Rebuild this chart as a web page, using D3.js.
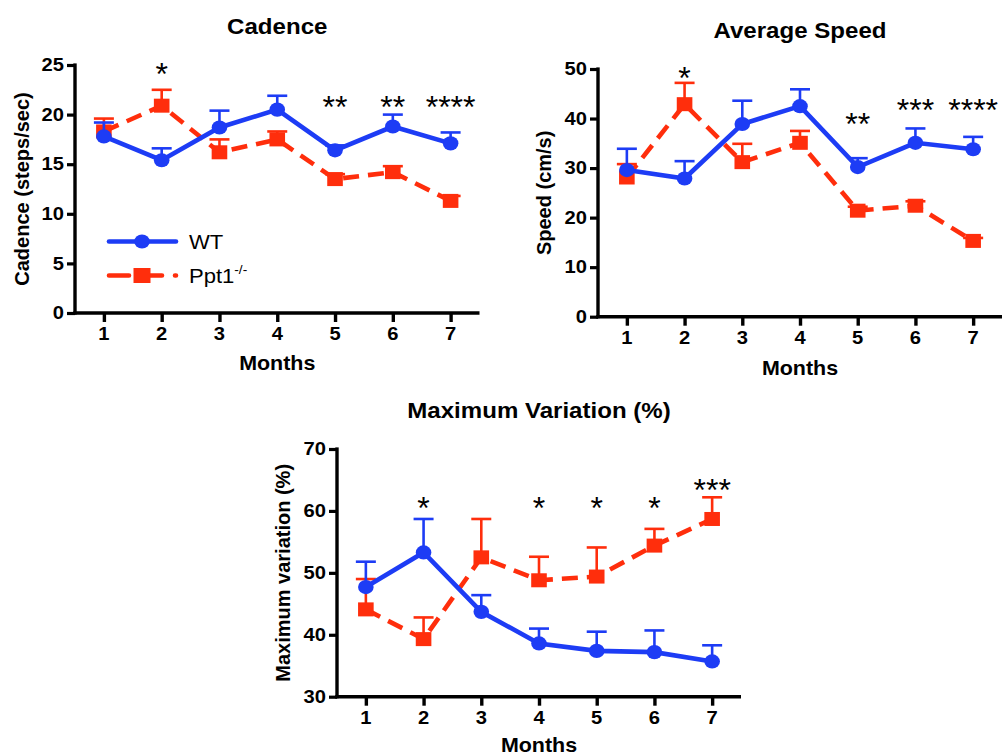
<!DOCTYPE html>
<html>
<head>
<meta charset="utf-8">
<script src="https://cdn.jsdelivr.net/npm/d3@7"></script>
<style>
  html, body { margin: 0; padding: 0; background: #fff; }
  svg { display: block; font-family: "Liberation Sans", Arial, Helvetica, sans-serif; }
</style>
</head>
<body>
<svg id="chart" width="1004" height="756"></svg>
<script>
// Months after birth
const months = [1, 2, 3, 4, 5, 6, 7];

// Cadence (steps/sec): mean and SEM
const cadenceWT     = [17.8, 15.4, 18.7, 20.5, 16.4, 18.8, 17.1];
const cadenceWTerr  = [1.4, 1.2, 1.7, 1.4, 0.5, 1.2, 1.1];
const cadenceKO     = [18.3, 20.9, 16.2, 17.5, 13.5, 14.2, 11.3];
const cadenceKOerr  = [1.3, 1.6, 1.3, 0.8, 0.5, 0.6, 0.5];
const cadenceStars  = ["", "*", "", "", "**", "**", "****"];
const cadenceTicks  = [0, 5, 10, 15, 20, 25];

// Average speed (cm/s): mean and SEM
const speedWT       = [29.6, 27.9, 38.9, 42.5, 30.2, 35.1, 33.8];
const speedWTerr    = [4.3, 3.5, 4.7, 3.4, 1.8, 2.9, 2.5];
const speedKO       = [28.1, 42.9, 31.2, 35.1, 21.4, 22.4, 15.3];
const speedKOerr    = [2.7, 4.3, 3.7, 2.4, 0.8, 0.9, 0.6];
const speedStars    = ["", "*", "", "", "**", "***", "****"];
const speedTicks    = [0, 10, 20, 30, 40, 50];

// Maximum variation (%): mean and SEM
const variationWT     = [47.7, 53.3, 43.7, 38.6, 37.4, 37.2, 35.7];
const variationWTerr  = [4.1, 5.4, 2.7, 2.4, 3.1, 3.5, 2.6];
const variationKO     = [44.1, 39.3, 52.5, 48.8, 49.4, 54.4, 58.7];
const variationKOerr  = [4.9, 3.5, 6.2, 3.8, 4.7, 2.7, 3.5];
const variationStars  = ["", "*", "", "*", "*", "*", "***"];
const variationTicks  = [30, 40, 50, 60, 70];

const BLUE = "#1d3cf5";
const RED = "#ff2e0c";
const SX = 1.12; // horizontal stretch of printed glyphs

const svg = d3.select("#chart");

// text helper with a horizontal glyph stretch
function label(parent, x, y, str, o = {}) {
  const g = parent.append("g").attr("transform", `translate(${x},${y}) scale(${o.sx ?? SX},1)`);
  const t = g.append("text")
    .attr("text-anchor", o.anchor || "middle")
    .attr("dominant-baseline", o.baseline || "auto")
    .attr("font-size", o.size || 18)
    .attr("font-weight", o.weight || "bold")
    .attr("fill", o.fill || "#000")
    .text(str);
  return t;
}

const panels = [
  {
    title: "Cadence", ylabel: "Cadence (steps/sec)",
    wt: cadenceWT, wtErr: cadenceWTerr, ko: cadenceKO, koErr: cadenceKOerr,
    stars: cadenceStars, ticks: cadenceTicks, domain: [0, 25],
    starLevel: [0, 24.8, 0, 0, 21.5, 21.5, 21.5],
    xr: [75, 479.5], yr: [313, 65],
    titleY: 34, ylabelX: 22, monthsY: 370, legend: true
  },
  {
    title: "Average Speed", ylabel: "Speed (cm/s)",
    wt: speedWT, wtErr: speedWTerr, ko: speedKO, koErr: speedKOerr,
    stars: speedStars, ticks: speedTicks, domain: [0, 50],
    starLevel: [0, 49.5, 0, 0, 40.4, 43.1, 43.1],
    xr: [598, 1002], yr: [316.7, 69],
    titleY: 38, ylabelX: 544, monthsY: 375, legend: false
  },
  {
    title: "Maximum Variation (%)", ylabel: "Maximum variation (%)",
    wt: variationWT, wtErr: variationWTerr, ko: variationKO, koErr: variationKOerr,
    stars: variationStars, ticks: variationTicks, domain: [30, 70],
    starLevel: [0, 61.6, 0, 61.6, 61.6, 61.6, 64.5],
    xr: [337, 741], yr: [696.7, 449],
    titleY: 418, ylabelX: 283, monthsY: 752, legend: false
  }
];

panels.forEach(p => {
  const g = svg.append("g");
  const x = d3.scaleLinear().domain([0.5, 7.5]).range(p.xr);
  const y = d3.scaleLinear().domain(p.domain).range(p.yr);
  const cx = (x(1) + x(7)) / 2;

  // title
  label(g, cx, p.titleY, p.title, { size: 21.5 });

  // y axis
  const yAxis = d3.axisLeft(y).tickValues(p.ticks).tickSize(8).tickPadding(4);
  const ya = g.append("g").attr("transform", `translate(${p.xr[0]},0)`).call(yAxis);
  ya.select(".domain").remove();
  ya.selectAll(".tick line").attr("stroke", "#000").attr("stroke-width", 3.2);
  ya.selectAll(".tick text").remove();
  p.ticks.forEach(t => label(g, p.xr[0] - 11, y(t), t, { size: 18, anchor: "end", baseline: "central" }));
  g.append("line").attr("x1", p.xr[0]).attr("x2", p.xr[0])
    .attr("y1", y(p.domain[0]) + 1.6).attr("y2", y(p.domain[1]) - 1.6)
    .attr("stroke", "#000").attr("stroke-width", 3.4);

  // x axis
  const xAxis = d3.axisBottom(x).tickValues(months).tickSize(9).tickPadding(4);
  const xa = g.append("g").attr("transform", `translate(0,${p.yr[0]})`).call(xAxis);
  xa.select(".domain").remove();
  xa.selectAll(".tick line").attr("stroke", "#000").attr("stroke-width", 3.4);
  xa.selectAll(".tick text").remove();
  months.forEach(m => label(g, x(m), p.yr[0] + 27, m, { size: 18 }));
  g.append("line").attr("x1", p.xr[0] - 1.7).attr("x2", p.xr[1])
    .attr("y1", p.yr[0]).attr("y2", p.yr[0])
    .attr("stroke", "#000").attr("stroke-width", 3.4);

  // axis titles
  label(g, cx, p.monthsY, "Months", { size: 19.5, sx: 1.1 });
  g.append("text")
    .attr("transform", `translate(${p.ylabelX},${(p.yr[0] + p.yr[1]) / 2}) rotate(-90)`)
    .attr("text-anchor", "middle").attr("dominant-baseline", "central")
    .attr("font-size", 20).attr("font-weight", "bold")
    .text(p.ylabel);

  const series = [
    { vals: p.ko, err: p.koErr, color: RED, dash: "16,9", shape: "square" },
    { vals: p.wt, err: p.wtErr, color: BLUE, dash: null, shape: "circle" }
  ];

  series.forEach(s => {
    const sg = g.append("g");
    // upper error bars
    sg.selectAll("line.err").data(months).enter().append("line")
      .attr("x1", (d) => x(d)).attr("x2", (d) => x(d))
      .attr("y1", (d, i) => y(s.vals[i])).attr("y2", (d, i) => y(s.vals[i] + s.err[i]))
      .attr("stroke", s.color).attr("stroke-width", 2.6);
    sg.selectAll("line.cap").data(months).enter().append("line")
      .attr("x1", (d) => x(d) - 10).attr("x2", (d) => x(d) + 10)
      .attr("y1", (d, i) => y(s.vals[i] + s.err[i])).attr("y2", (d, i) => y(s.vals[i] + s.err[i]))
      .attr("stroke", s.color).attr("stroke-width", 2.6);
    // connecting line
    const line = d3.line().x((d) => x(d)).y((d, i) => y(s.vals[i]));
    sg.append("path").datum(months).attr("d", line)
      .attr("fill", "none").attr("stroke", s.color).attr("stroke-width", 4.6)
      .attr("stroke-dasharray", s.dash);
    // markers
    if (s.shape === "circle") {
      sg.selectAll("ellipse").data(months).enter().append("ellipse")
        .attr("cx", (d) => x(d)).attr("cy", (d, i) => y(s.vals[i]))
        .attr("rx", 7.8).attr("ry", 7.1).attr("fill", s.color);
    } else {
      sg.selectAll("rect").data(months).enter().append("rect")
        .attr("x", (d) => x(d) - 7.8).attr("y", (d, i) => y(s.vals[i]) - 7)
        .attr("width", 15.6).attr("height", 14).attr("fill", s.color);
    }
  });

  // significance marks
  p.stars.forEach((st, i) => {
    if (!st) return;
    label(g, x(months[i]), y(p.starLevel[i]) + 18, st, { size: 32, weight: "normal", sx: 1.0 });
  });

  // legend
  if (p.legend) {
    const lg = g.append("g");
    const rows = [
      { color: BLUE, dash: null, shape: "circle", y: 241.5, name: "WT" },
      { color: RED, dash: "20,13", shape: "square", y: 275.5, name: "Ppt1" }
    ];
    rows.forEach(r => {
      lg.append("line").attr("x1", 109).attr("x2", 176).attr("y1", r.y).attr("y2", r.y)
        .attr("stroke", r.color).attr("stroke-width", 4.6).attr("stroke-dasharray", r.dash)
        .attr("stroke-linecap", "round");
      if (r.shape === "circle") {
        lg.append("ellipse").attr("cx", 142).attr("cy", r.y).attr("rx", 7.8).attr("ry", 7.1).attr("fill", r.color);
      } else {
        lg.append("rect").attr("x", 133.5).attr("y", r.y - 7.5).attr("width", 17).attr("height", 15).attr("fill", r.color);
      }
      const t = label(lg, 189, r.y + 7.5, r.name, { size: 21, weight: "normal", anchor: "start", sx: 1.05 });
      if (r.name === "Ppt1") {
        t.append("tspan").attr("font-size", 13).attr("dy", -9).text("-/-");
      }
    });
  }
});
</script>
</body>
</html>
